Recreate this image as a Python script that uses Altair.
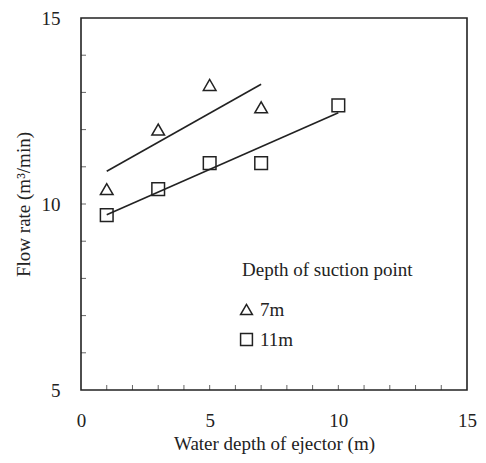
import altair as alt
import pandas as pd

# ---- data ----
series_names = ["7m", "11m"]
tri_x = [1, 3, 5, 7]
tri_y = [10.4, 12.0, 13.2, 12.6]
sq_x = [1, 3, 5, 7, 10]
sq_y = [9.7, 10.4, 11.1, 11.1, 12.65]
x_label_values = [0, 5, 10, 15]
y_label_values = [5, 10, 15]
x_minor_ticks = list(range(1, 15))
y_minor_ticks = list(range(6, 15))

df = pd.DataFrame({
    "depth": tri_x + sq_x,
    "flow": tri_y + sq_y,
    "series": [series_names[0]] * len(tri_x) + [series_names[1]] * len(sq_x),
})
xt = pd.DataFrame({"depth": x_minor_ticks})
yt = pd.DataFrame({"flow": y_minor_ticks})

FONT = "Liberation Serif"
INK = "#222222"
X_TITLE = "Water depth of ejector (m)"
Y_TITLE = "Flow rate (m\u00b3/min)"

xscale = alt.Scale(domain=[0, 15], nice=False, zero=False)
yscale = alt.Scale(domain=[5, 15], nice=False, zero=False)

axis_style = dict(
    tickSize=0, grid=False, domain=False, labelFlush=False,
    labelFont=FONT, labelFontSize=19, labelColor=INK,
    titleFont=FONT, titleFontSize=19, titleFontWeight="normal", titleColor=INK,
)
x_axis = alt.Axis(values=x_label_values, title=X_TITLE, labelPadding=21,
                  titlePadding=4, **axis_style)
y_axis = alt.Axis(values=y_label_values, title=Y_TITLE, labelPadding=21,
                  titlePadding=8, **axis_style)

base = alt.Chart(df)

points = base.mark_point(filled=False, color=INK, size=160, strokeWidth=1.5, opacity=1).encode(
    x=alt.X("depth:Q", scale=xscale, axis=x_axis),
    y=alt.Y("flow:Q", scale=yscale, axis=y_axis),
    shape=alt.Shape(
        "series:N",
        scale=alt.Scale(domain=series_names, range=["triangle-up", "square"]),
        legend=alt.Legend(
            orient="none", legendX=161, legendY=243, padding=0,
            title="Depth of suction point", titleFont=FONT, titleFontSize=19,
            titleFontWeight="normal", titleColor=INK, titlePadding=20,
            labelFont=FONT, labelFontSize=19, labelColor=INK, labelOffset=4,
            symbolSize=140, symbolStrokeColor=INK, symbolStrokeWidth=1.5,
            symbolFillColor="transparent", rowPadding=10, symbolOffset=-5,
        ),
    ),
)

fits = base.transform_regression("depth", "flow", groupby=["series"]).mark_line(
    color=INK, strokeWidth=1.6
).encode(
    x=alt.X("depth:Q", scale=xscale, axis=x_axis),
    y=alt.Y("flow:Q", scale=yscale, axis=y_axis),
    detail="series:N",
)

xticks = alt.Chart(xt).mark_tick(orient="vertical", size=5, thickness=1, color=INK).encode(
    x=alt.X("depth:Q", scale=xscale, axis=x_axis),
    y=alt.datum(5),
    yOffset=alt.value(-2.5),
)

yticks = alt.Chart(yt).mark_tick(orient="horizontal", size=5, thickness=1, color=INK).encode(
    y=alt.Y("flow:Q", scale=yscale, axis=y_axis),
    x=alt.datum(0),
    xOffset=alt.value(2.5),
)

chart = alt.layer(fits, points, xticks, yticks).properties(
    width=386, height=372,
    padding={"left": 73, "top": 10, "right": 11, "bottom": 65},
    autosize=alt.AutoSizeParams(type="none"),
    background="white",
).configure_view(
    stroke=INK, strokeWidth=1.6,
)

chart.save("out.html", embed_options={"renderer": "svg", "actions": False})
